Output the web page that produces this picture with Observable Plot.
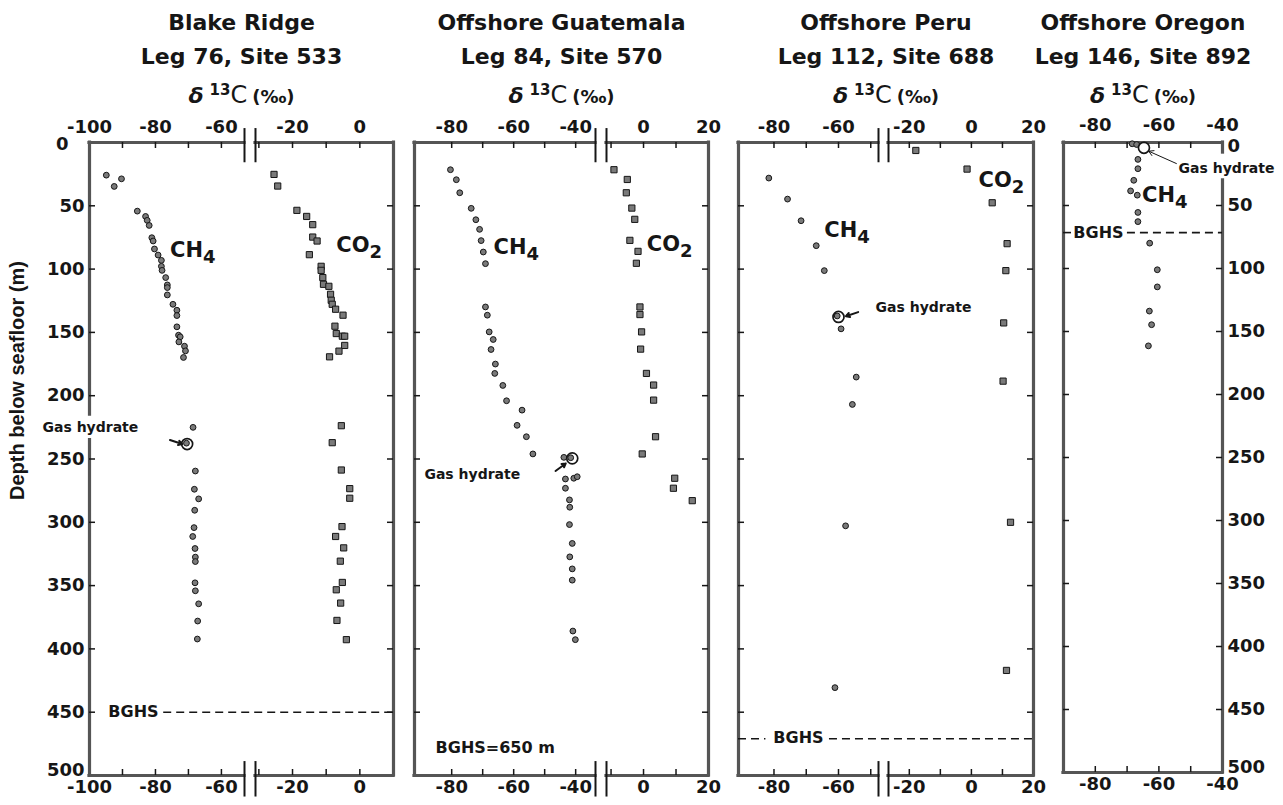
<!DOCTYPE html>
<html><head><meta charset="utf-8">
<script src="https://cdn.jsdelivr.net/npm/d3@7"></script>
<script src="https://cdn.jsdelivr.net/npm/@observablehq/plot@0.6"></script>
<style>
html,body{margin:0;padding:0;background:#fff;overflow:hidden;}
#chart{position:relative;width:1283px;height:805px;background:#fff;}
#chart svg{position:absolute;left:0;top:0;overflow:visible;background:transparent;}
</style></head><body><div id="chart"></div>
<script>
// ---------------- data (value ‰, depth m) ----------------
const depthTicks = [0, 50, 100, 150, 200, 250, 300, 350, 400, 450, 500];
const depthMinorTicks = [50, 100, 150, 200, 250, 300, 350, 400, 450];
const yTitle = "Depth below seafloor (m)";
const deltaLabel = "δ13C (‰)";

// Blake Ridge, Leg 76, Site 533
const blakeCH4 = [[-94.9,25.8],[-92.5,34.7],[-90.3,28.7],[-85.5,54.2],[-83,58.4],[-82.5,61.5],[-81.9,65.5],[-81.1,75.2],[-80.7,77.8],[-80.3,84.1],[-79.2,88.9],[-78.2,93.1],[-78.2,97.8],[-78,101],[-76.9,106.7],[-76.4,112.5],[-76.4,114.6],[-76.4,120.4],[-74.7,127.8],[-73.5,132.5],[-73.5,136.7],[-73.5,145.6],[-73,152.2],[-72.5,153.5],[-72.9,157.5],[-71.2,160.9],[-70.9,164.6],[-71.5,169.8],[-68.6,225],[-70.6,237.5],[-67.9,259.5],[-68.2,273.9],[-66.9,281.5],[-68.1,290.5],[-68.3,304.2],[-68.7,311.2],[-68,320.7],[-67.9,327.5],[-67.9,331],[-68,347.8],[-67.9,354.1],[-66.9,364.4],[-67.2,378],[-67.3,392.2]];
const blakeCO2 = [[-25.5,25.2],[-24.4,34.4],[-18.7,53.6],[-15.8,58.4],[-14,64.9],[-14,74.7],[-12.7,77.8],[-15,88.6],[-11.5,97.8],[-11.5,101],[-11,106.7],[-10.8,112],[-9.2,113.6],[-8.7,119.9],[-8.5,124.6],[-8.2,127.8],[-7.2,131.7],[-5,136.4],[-7.4,145.1],[-7,150.9],[-5.2,153],[-4.5,153],[-4.5,160.3],[-6.2,164.8],[-9,169.3],[-5.5,223.7],[-8.2,237.1],[-5.5,258.7],[-3,273.4],[-3,281],[-5.3,303.4],[-7.2,311.2],[-4.8,320.2],[-5.8,330.7],[-5.2,347.5],[-7,353.3],[-5.7,363.8],[-6.8,377.5],[-4,392.7]];
const blakeHydrate = [[-70.4,238.2]];
const blakeSpecies = [{text:"CH4", x:-75.6, y:90.7}, {text:"CO2", x:-7.0, y:86.7}];
const blakeHydrateNote = [{text:"Gas hydrate", x:-85.2, y:225}];
const blakeBGHSNote = [{text:"BGHS", x:-94.3, y:450}];
const blakeBGHSLine = [{x1:-77.5, x2:10, y:450}];
const blakeArrow = [{x1:-75.6, y1:235, x2:-71.9, y2:238.2}];

// Offshore Guatemala, Leg 84, Site 570
const guatCH4 = [[-80.4,21.5],[-78.5,29.4],[-77.4,39.7],[-73.7,52],[-72.2,61],[-71,68.6],[-70.5,77.5],[-69.8,86.5],[-69.1,95.7],[-69.1,129.9],[-68.5,136.4],[-67.9,149.6],[-66.6,155.6],[-67.3,163.5],[-65.9,175],[-66.1,182.4],[-63.5,191.9],[-62.3,204],[-57.3,211.4],[-58.9,223.4],[-55.9,232.4],[-53.8,246],[-43.8,248.7],[-41.6,249],[-40.6,265.2],[-39.5,264],[-43.3,265.8],[-43.3,273.1],[-42,282.3],[-41.9,288.1],[-42,301.8],[-41.1,316.7],[-41.9,327.3],[-41.1,336.8],[-41.1,345.7],[-40.9,385.9],[-40.1,392.7]];
const guatCO2 = [[-9.1,21.5],[-5,29.2],[-5.3,39.7],[-3.6,51.8],[-2.7,60.7],[-4.2,77.3],[-1.7,86],[-2.2,95.4],[-1.1,129.9],[-1.1,135.9],[-0.6,149.6],[-0.9,163.2],[0.9,182.4],[3.1,191.6],[3.1,203.5],[3.7,232.4],[-0.4,246],[9.6,265.2],[9.2,273.1],[15,282.9]];
const guatHydrate = [[-41.1,249.5]];
const guatSpecies = [{text:"CH4", x:-66.5, y:88.3}, {text:"CO2", x:1, y:85.7}];
const guatHydrateNote = [{text:"Gas hydrate", x:-88.8, y:262}];
const guatBGHSNote = [{text:"BGHS=650 m", x:-85.2, y:478.5}];
const guatBGHSLine = [];
const guatArrow = [{x1:-46.5, y1:259.5, x2:-43.2, y2:253.5}];

// Offshore Peru, Leg 112, Site 688
const peruCH4 = [[-81.6,28.1],[-75.8,44.7],[-71.6,61.8],[-66.9,81.5],[-64.4,101.2],[-60.4,137],[-59.2,147.2],[-54.5,185.3],[-55.7,206.9],[-57.8,302.8],[-61.1,430.6]];
const peruCO2 = [[-17.9,6.3],[-1.4,21],[6.7,47.6],[11.5,79.9],[11.1,101.2],[10.4,142.5],[10.2,188.5],[12.6,300],[11.3,417]];
const peruHydrate = [[-60,137.8]];
const peruSpecies = [{text:"CH4", x:-64.4, y:74.7}, {text:"CO2", x:2.3, y:35.5}];
const peruHydrateNote = [{text:"Gas hydrate", x:0, y:130.3}];
const peruBGHSNote = [{text:"BGHS", x:-80.2, y:470}];
const peruBGHSLine = [{x1:-91, x2:-82.5, y:471}, {x1:-62.8, x2:20, y:471}];
const peruArrow = [{x1:-53.9, y1:134, x2:-57.7, y2:137.2}];

// Offshore Oregon, Leg 146, Site 892
const oregonCH4 = [[-68.4,1],[-67,1.6],[-66.6,13.4],[-66.6,20.8],[-67.9,30],[-68.9,38.4],[-66.8,41.8],[-66.6,55.5],[-66.6,62.8],[-62.9,79.9],[-60.5,101],[-60.5,114.6],[-63,133.8],[-62.3,144.6],[-63.3,161.4]];
const oregonCO2 = [];
const oregonHydrate = [[-64.7,4.2]];
const oregonSpecies = [{text:"CH4", x:-65.3, y:47.4}];
const oregonHydrateNote = [{text:"Gas hydrate", x:-53.8, y:20.4}];
const oregonBGHSNote = [{text:"BGHS", x:-86.9, y:71.5}];
const oregonBGHSLine = [{x1:-90, x2:-87.4, y:71.5}, {x1:-69.9, x2:-40, y:71.5}];
const oregonArrow = [{x1:-54.5, y1:16.7, x2:-63.2, y2:6.9}];

// ---------------- layout ----------------
const W = 1283, H = 805;
const FONT = "'DejaVu Sans', sans-serif";
const INK = "#161616";
const FRAME = "#555555";
const DOTFILL = "#7a7a7a";

const panels = [
  {title:"Blake Ridge", site:"Leg 76, Site 533",
   xDomain:[-100,-53,-31,10], xRange:[89,244,255,393], yRange:[142,775],
   labels:[-100,-80,-60,-20,0], minor:[-90,-80,-70,-60,-30,-20,-10,0],
   ch4:blakeCH4, co2:blakeCO2, hydrate:blakeHydrate, hydrateFill:"none",
   species:blakeSpecies, hydrateNote:blakeHydrateNote, noteAnchor:"end",
   bghsNote:blakeBGHSNote, bghsLine:blakeBGHSLine, arrow:blakeArrow, arrowWidth:2,
   leftFrame:[[0,215],[235,500]], rightFrame:[[0,500]], yAxis:"left",
   endShift:{top:[-16,2], bottom:[0,-5]}, topPad:10},
  {title:"Offshore Guatemala", site:"Leg 84, Site 570",
   xDomain:[-92,-33.6,-11.4,20], xRange:[414,595,606,708], yRange:[142,775],
   labels:[-80,-60,-40,0,20], minor:[-80,-70,-60,-50,-40,-10,0,10],
   ch4:guatCH4, co2:guatCO2, hydrate:guatHydrate, hydrateFill:"none",
   species:guatSpecies, hydrateNote:guatHydrateNote, noteAnchor:"start",
   bghsNote:guatBGHSNote, bghsLine:guatBGHSLine, arrow:guatArrow, arrowWidth:2,
   leftFrame:[[0,500]], rightFrame:[[0,500]], yAxis:null, topPad:10},
  {title:"Offshore Peru", site:"Leg 112, Site 688",
   xDomain:[-91,-47.6,-26.7,20], xRange:[738,878,888,1033], yRange:[142,775],
   labels:[-80,-60,-20,0,20], minor:[-80,-70,-60,-50,-20,-10,0,10],
   ch4:peruCH4, co2:peruCO2, hydrate:peruHydrate, hydrateFill:"none",
   species:peruSpecies, hydrateNote:peruHydrateNote, noteAnchor:"end",
   bghsNote:peruBGHSNote, bghsLine:peruBGHSLine, arrow:peruArrow, arrowWidth:2,
   leftFrame:[[0,500]], rightFrame:[[0,500]], yAxis:null, topPad:10},
  {title:"Offshore Oregon", site:"Leg 146, Site 892",
   xDomain:[-90,-40], xRange:[1063,1222], yRange:[142,772],
   labels:[-80,-60,-40], minor:[-80,-70,-60,-50],
   ch4:oregonCH4, co2:oregonCO2, hydrate:oregonHydrate, hydrateFill:"white",
   species:oregonSpecies, hydrateNote:oregonHydrateNote, noteAnchor:"start",
   bghsNote:oregonBGHSNote, bghsLine:oregonBGHSLine, arrow:oregonArrow, arrowWidth:1,
   leftFrame:[[0,500]], rightFrame:[[0,8],[30,500]], yAxis:"right",
   endShift:{top:[0,4], bottom:[0,-5]}, topPad:12}
];

function buildPanel(p) {
  const xd = p.xDomain, xr = p.xRange;
  const x0 = xd[0], x1 = xd[xd.length - 1];
  const left = xr[0], right = xr[xr.length - 1];
  const top = p.yRange[0], bottom = p.yRange[1];
  const fw = right - left, fh = bottom - top;
  const tk = 6;
  const hasBreak = xd.length === 4;
  const segs = hasBreak ? [[xd[0], xd[1]], [xd[2], xd[3]]] : [[x0, x1]];
  const marks = [];

  // titles
  marks.push(Plot.text([p.title], {frameAnchor:"top", dy:-113, lineAnchor:"bottom", fontSize:22}));
  marks.push(Plot.text([p.site], {frameAnchor:"top", dy:-79, lineAnchor:"bottom", fontSize:22}));
  marks.push(Plot.text([deltaLabel], {frameAnchor:"top", dy:-40, lineAnchor:"bottom", fontSize:22}));

  // frame
  for (const yv of [0, 500]) {
    marks.push(Plot.ruleY(segs.map(s => ({x1:s[0], x2:s[1], y:yv})),
      {x1:"x1", x2:"x2", y:"y", stroke:FRAME, strokeWidth:3.2, strokeLinecap:"square"}));
  }
  marks.push(Plot.ruleX(p.leftFrame.map(s => ({x:x0, y1:s[0], y2:s[1]})),
    {x:"x", y1:"y1", y2:"y2", stroke:FRAME, strokeWidth:3.2, strokeLinecap:"square"}));
  marks.push(Plot.ruleX(p.rightFrame.map(s => ({x:x1, y1:s[0], y2:s[1]})),
    {x:"x", y1:"y1", y2:"y2", stroke:FRAME, strokeWidth:3.2, strokeLinecap:"square"}));

  // axis break marks
  if (hasBreak) {
    const br = [xd[1], xd[2]];
    marks.push(Plot.ruleX(br, {y1:-11, y2:16, stroke:INK, strokeWidth:2}));
    marks.push(Plot.ruleX(br, {y1:489, y2:517, stroke:INK, strokeWidth:2}));
  }

  // inward ticks
  marks.push(Plot.ruleX(p.minor, {insetBottom:fh - tk, stroke:INK, strokeWidth:1.5}));
  marks.push(Plot.ruleX(p.minor, {insetTop:fh - tk, stroke:INK, strokeWidth:1.5}));
  marks.push(Plot.ruleY(depthMinorTicks, {insetRight:fw - tk, stroke:INK, strokeWidth:1.5}));
  marks.push(Plot.ruleY(depthMinorTicks, {insetLeft:fw - tk, stroke:INK, strokeWidth:1.5}));

  // x labels
  marks.push(Plot.axisX(p.labels, {anchor:"top", tickSize:0, tickPadding:p.topPad, fontSize:18, tickFormat:d => String(d), label:null}));
  marks.push(Plot.axisX(p.labels, {anchor:"bottom", tickSize:0, tickPadding:5, fontSize:18, tickFormat:d => String(d), label:null}));

  // y labels
  if (p.yAxis) {
    const inner = depthTicks.slice(1, -1);
    const ends = [depthTicks[0], depthTicks[depthTicks.length - 1]];
    const common = {anchor:p.yAxis, tickSize:0, tickPadding:5, fontSize:18, tickFormat:d => String(d), label:null};
    marks.push(Plot.axisY(inner, common));
    marks.push(Plot.axisY([ends[0]], {...common, dx:p.endShift.top[0], dy:p.endShift.top[1]}));
    marks.push(Plot.axisY([ends[1]], {...common, dx:p.endShift.bottom[0], dy:p.endShift.bottom[1]}));
  }
  if (p.yAxis === "left") {
    marks.push(Plot.text([yTitle], {x:x0, y:188, dx:-72, rotate:-90, fontSize:20, fontFamily:"'Liberation Sans', Arial, sans-serif"}));
  }

  // BGHS
  marks.push(Plot.ruleY(p.bghsLine, {x1:"x1", x2:"x2", y:"y", stroke:INK, strokeWidth:1.6, strokeDasharray:"8,5"}));
  marks.push(Plot.text(p.bghsNote, {x:"x", y:"y", text:"text", textAnchor:"start", fontSize:16}));

  // data
  marks.push(Plot.dot(p.co2, {x:d => d[0], y:d => d[1], symbol:"square", r:3.5, fill:DOTFILL, stroke:INK, strokeWidth:1}));
  marks.push(Plot.dot(p.ch4, {x:d => d[0], y:d => d[1], r:2.9, fill:DOTFILL, stroke:INK, strokeWidth:1}));
  marks.push(Plot.dot(p.hydrate, {x:d => d[0], y:d => d[1], r:5.5, fill:p.hydrateFill, stroke:INK, strokeWidth:1.7}));

  // annotations
  marks.push(Plot.text(p.species, {x:"x", y:"y", text:"text", textAnchor:"start", lineAnchor:"bottom", fontSize:21}));
  marks.push(Plot.text(p.hydrateNote, {x:"x", y:"y", text:"text", textAnchor:p.noteAnchor, fontSize:14}));
  marks.push(Plot.arrow(p.arrow, {x1:"x1", y1:"y1", x2:"x2", y2:"y2", stroke:INK, strokeWidth:p.arrowWidth, headLength:8}));

  const svg = Plot.plot({
    width:W, height:H,
    marginLeft:left, marginRight:W - right, marginTop:top, marginBottom:H - bottom,
    x:{type:"linear", domain:xd, range:xr, axis:null},
    y:{type:"linear", domain:[0, 500], range:[top, bottom], axis:null},
    style:{fontFamily:FONT, fontWeight:"bold", background:"transparent", overflow:"visible", color:INK},
    marks
  });
  enrich(svg);
  return svg;
}

function enrich(svg) {
  d3.select(svg).selectAll("text").each(function() {
    const s = this.textContent;
    const t = d3.select(this);
    if (s === "CH4" || s === "CO2") {
      t.text(null);
      t.append("tspan").text(s.slice(0, 2));
      t.append("tspan").attr("font-size", 18).attr("dy", 6).text(s.slice(2));
    } else if (s === deltaLabel) {
      t.text(null);
      t.append("tspan").attr("font-style", "italic").attr("font-size", 22).text("δ");
      t.append("tspan").attr("font-size", 15).attr("dx", 6).attr("dy", -8).text("13");
      t.append("tspan").attr("font-size", 24).attr("font-weight", "normal").attr("dy", 8).text("C");
      t.append("tspan").attr("font-size", 18).attr("dx", 5).text("(‰)");
    }
  });
}

const chart = document.getElementById("chart");
for (const p of panels) chart.appendChild(buildPanel(p));
</script></body></html>
